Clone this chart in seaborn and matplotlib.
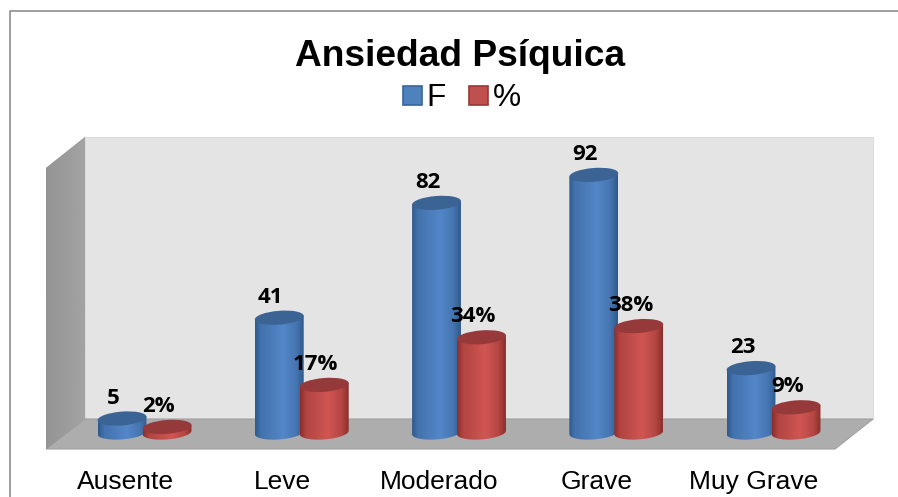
import numpy as np
import pandas as pd
import matplotlib
matplotlib.use("Agg")
import matplotlib.pyplot as plt
from matplotlib.patches import Polygon, Ellipse, Rectangle
from matplotlib.colors import to_rgb
import seaborn as sns

categories = ["Ausente", "Leve", "Moderado", "Grave", "Muy Grave"]
series_f = [5, 41, 82, 92, 23]
series_pct = [2, 17, 34, 38, 9]
title = "Ansiedad Psíquica"

sns.set_style("white")
W, H = 898, 497
fig = plt.figure(figsize=(W / 100, H / 100), dpi=100, facecolor="white")

# pixel-space backdrop: frame and the three walls of the 3D box
px = fig.add_axes([0, 0, 1, 1], zorder=0)
px.set_xlim(0, W)
px.set_ylim(H, 0)
px.axis("off")
px.plot([9.5, 9.5, W], [H, 11, 11], color="#8e8e8e", lw=1.2, clip_on=False)
px.add_patch(Polygon([(85, 137), (873, 137), (873, 419), (85, 419)], fc="#e4e4e4", ec="#dcdcdc", lw=0.8))
px.add_patch(Polygon([(46, 449), (85, 419), (873, 419), (835, 449)], fc="#adadad", ec="#a0a0a0", lw=0.8))
wall = Polygon([(46, 168), (85, 137), (85, 419), (46, 449)], fc="#9a9a9a", ec="none")
px.add_patch(wall)
im = px.imshow(np.linspace(0.58, 0.64, 32).reshape(1, -1), cmap="gray", vmin=0, vmax=1,
               extent=(46, 85, 449, 137), aspect="auto", zorder=1.5)
im.set_clip_path(wall)
px.set_xlim(0, W)
px.set_ylim(H, 0)

# data axes
spacing, left, base, scale = 157.25, 65.9, 432.5, 2.8
ax = fig.add_axes([left / W, (H - base) / H, 5 * spacing / W, 100 * scale / H], zorder=1)
ax.patch.set_alpha(0)

df = pd.DataFrame({
    "categoria": categories * 2,
    "valor": series_f + series_pct,
    "serie": ["F"] * len(categories) + ["%"] * len(categories),
})
sns.barplot(data=df, x="categoria", y="valor", hue="serie", hue_order=["F", "%"],
            order=categories, palette=["#4f81bd", "#c0504d"], saturation=1,
            width=0.5723, gap=-0.0666, legend=False, ax=ax)
ax.set_xlim(-0.5, 4.5)
ax.set_ylim(0, 100)
ax.set_autoscale_on(False)
ax.set_xlabel("")
ax.set_ylabel("")
ax.set_yticks([])
ax.set_xticks(np.arange(len(categories)) - 19.5 / spacing, categories)
ax.tick_params(axis="x", length=0, pad=27.2, labelsize=19, labelfontfamily="Liberation Sans", labelcolor="black")
sns.despine(ax=ax, left=True, bottom=True)

styles = [
    dict(edge="#305a8c", mid="#5387c9", top="#3b6495", z=3, fmt="{}"),
    dict(edge="#8c2f2d", mid="#d05652", top="#96393a", z=5, fmt="{}%"),
]
a, b, tilt = 24.5, 6.9, np.deg2rad(-4.5)


def ring(cx, cy, t):
    return (cx + a * np.cos(t) * np.cos(tilt) - b * np.sin(t) * np.sin(tilt),
            cy + a * np.cos(t) * np.sin(tilt) + b * np.sin(t) * np.cos(tilt))


to_px = ax.transData + px.transData.inverted()
for container, st, values in zip(ax.containers, styles, (series_f, series_pct)):
    e, m = np.array(to_rgb(st["edge"])), np.array(to_rgb(st["mid"]))
    stops = np.interp(np.linspace(0, 1, 64), [0, 0.12, 0.58, 0.85, 1], [0, 0.55, 1, 0.6, 0])[:, None]
    grad = (e + (m - e) * stops)[None, :, :]
    for bar, value in zip(container.patches, values):
        # keep the bar itself hidden inside the cylinder silhouette
        bar.set_x(bar.get_x() + 0.02)
        bar.set_width(bar.get_width() - 0.04)
        bar.set_zorder(st["z"] - 0.5)
        xc = bar.get_x() + bar.get_width() / 2
        cx, ybase = to_px.transform((xc, 0))
        _, ytop = to_px.transform((xc, bar.get_height()))
        t = np.linspace(0, np.pi, 40)
        bx, by = ring(cx, ybase, t)
        tx, ty = ring(cx, ytop, np.array([np.pi, 0.0]))
        body = Polygon(np.column_stack([np.r_[bx, tx], np.r_[by, ty]]), closed=True, fc="none", ec="none",
                       transform=px.transData, clip_on=False)
        ax.add_patch(body)
        img = ax.imshow(grad, extent=(cx - a, cx + a, ybase + 10, ytop - 10), transform=px.transData,
                        aspect="auto", interpolation="bilinear", zorder=st["z"])
        img.set_clip_path(body)
        img.set_clip_box(fig.bbox)
        ax.add_patch(Ellipse((cx, ytop), 2 * a, 2 * b, angle=np.rad2deg(tilt), fc=st["top"], ec="none",
                             transform=px.transData, zorder=st["z"] + 0.2, clip_on=False))
        ax.annotate(st["fmt"].format(value), xy=(xc, bar.get_height()), xycoords="data",
                    xytext=(-8.5 * 0.72, 20.5 * 0.72), textcoords="offset points", ha="center", va="center",
                    fontsize=16, fontweight="bold", family="Open Sans", color="black", zorder=10,
                    annotation_clip=False)
ax.set_xlim(-0.5, 4.5)
ax.set_ylim(0, 100)
ax.set_aspect("auto")

fig.suptitle(title, x=460 / W, y=1 - 56 / H, va="center", ha="center", fontsize=26.7,
             fontweight="bold", family="Liberation Sans", color="black")

handles = [Rectangle((0, 0), 1, 1, fc=c, ec=ec, lw=1.2)
           for c, ec in (("#4f81bd", "#3a6597"), ("#c0504d", "#953a38"))]
fig.legend(handles, ["F", "%"], loc="center", bbox_to_anchor=(462 / W, 1 - 98.5 / H), ncol=2, frameon=False,
           prop={"family": "Liberation Sans", "size": 22.8}, handlelength=0.6, handleheight=0.55,
           handletextpad=0.16, columnspacing=0.72, borderpad=0, borderaxespad=0, labelcolor="black")

fig.savefig("out.png", dpi=100, facecolor="white")
